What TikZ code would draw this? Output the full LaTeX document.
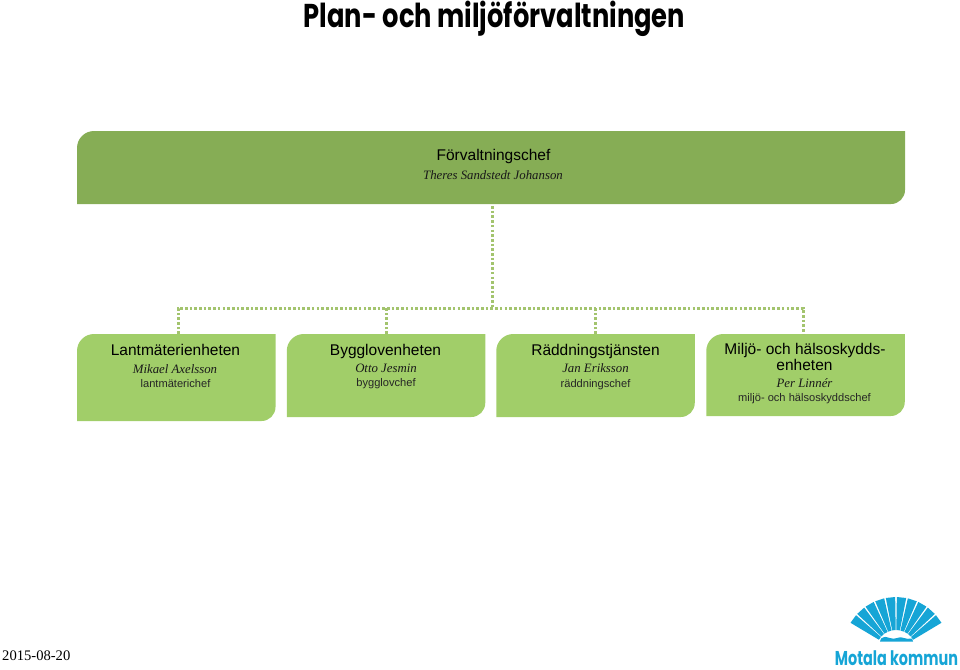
\documentclass[tikz,border=0pt]{standalone}
\usepackage{fontspec}
\setmainfont{Liberation Serif}
\setsansfont{Liberation Sans}
\newfontfamily\titlefont{Poppins}
\definecolor{topgreen}{HTML}{86AD55}
\definecolor{subgreen}{HTML}{A1CE69}
\definecolor{dotgreen}{HTML}{A3C46E}
\definecolor{logoblue}{HTML}{16A5D6}
\tikzset{
 x=1pt,y=-1pt,
 greenbox/.style n args={3}{rectangle,inner sep=0pt,outer sep=0pt,minimum width=#1,minimum height=#2,
   path picture={\fill[#3,rounded corners=0pt]
     (path picture bounding box.south west) --
     (path picture bounding box.west) [rounded corners=17pt] -- (path picture bounding box.north west) [rounded corners=0pt] --
     (path picture bounding box.north east) -- (path picture bounding box.east) [rounded corners=14pt] -- (path picture bounding box.south east) [rounded corners=0pt] -- (path picture bounding box.south) -- cycle;}},
 unitname/.style={font=\sffamily\fontsize{15.5}{15.5}\selectfont,text=black,inner sep=0pt,anchor=base},
 person/.style={font=\rmfamily\itshape\fontsize{12.8}{12.8}\selectfont,text=black!90,inner sep=0pt,anchor=base},
 role/.style={font=\sffamily\fontsize{11.1}{11.1}\selectfont,text=black!85,inner sep=0pt,anchor=base},
 dotline/.style={draw=dotgreen,line width=3pt,dash pattern=on 2.6pt off 2.1pt},
 fanpart/.style={fill=logoblue,draw=none},
}
\newcommand{\fanblade}[2]{%
  \fill[fanpart] (896+20*cos #1,650-20*sin #1) -- (896+53*cos #1,650-53*sin #1)
    -- (896+53*cos #2,650-53*sin #2) -- (896+20*cos #2,650-20*sin #2) -- cycle;}
\begin{document}
\begin{tikzpicture}
\useasboundingbox (0,0) rectangle (960,669);
\node[greenbox={828pt}{73pt}{topgreen}] (chief) at (491,167.5) {};
\node[greenbox={198.5pt}{87pt}{subgreen}] (lant) at (176.25,377.5) {};
\node[greenbox={198.5pt}{83pt}{subgreen}] (bygg) at (386,375.5) {};
\node[greenbox={198.5pt}{83pt}{subgreen}] (radd) at (595.5,375.5) {};
\node[greenbox={198.5pt}{82pt}{subgreen}] (milj) at (805.5,375) {};
\coordinate (bus) at (492.5,308);
\coordinate (chiefdrop) at (492.5,206);
\coordinate (busL) at (178,308);
\coordinate (busB) at (386,308);
\coordinate (busR) at (595,308);
\coordinate (busM) at (803,308);
\draw[dotline] (chiefdrop) -- (bus);
\draw[dotline] (lant.north -| busL) -- (busL) -- (busM) -- (milj.north -| busM);
\draw[dotline] (bygg.north -| busB) -- (busB);
\draw[dotline] (radd.north -| busR) -- (busR);
\node[font=\titlefont\bfseries\fontsize{33}{33}\selectfont,inner sep=0pt,xscale=.78,anchor=base] (title) at (494.5,28) {Plan- och miljöförvaltningen};
\node[unitname] (t0) at (493.5,160) {Förvaltningschef};
\node[person] (p0) at (493,179.5) {Theres Sandstedt Johanson};
\node[unitname] (t1) at (175.5,355.5) {Lantmäterienheten};
\node[person] (p1) at (175,373) {Mikael Axelsson};
\node[role] (r1) at (175.5,387.5) {lantmäterichef};
\node[unitname] (t2) at (385.5,355) {Bygglovenheten};
\node[person] (p2) at (386,372.3) {Otto Jesmin};
\node[role] (r2) at (386,386.3) {bygglovchef};
\node[unitname] (t3) at (595.5,355) {Räddningstjänsten};
\node[person] (p3) at (595.5,372.5) {Jan Eriksson};
\node[role] (r3) at (595.5,387) {räddningschef};
\node[unitname] (t4a) at (805,354.7) {Miljö- och hälsoskydds-};
\node[unitname] (t4b) at (804.5,370) {enheten};
\node[person] (p4) at (804.5,387) {Per Linnér};
\node[role] (r4) at (804.5,401.3) {miljö- och hälsoskyddschef};
\node[font=\rmfamily\fontsize{14.6}{14.6}\selectfont,inner sep=0pt,anchor=base west] (date) at (2,660.5) {2015-08-20};
\foreach \a in {0,...,9}{\pgfmathsetmacro{\s}{30+12*\a+0.9}\pgfmathsetmacro{\e}{30+12*\a+11.1}\fanblade{\s}{\e}}
\fill[fanpart] (880,641.5) -- (881,638.5) .. controls (884,636.5) and (887,636.5) .. (890,638) .. controls (892,639) and (895,639) .. (897,638) .. controls (899,637) and (902,637) .. (904,638) .. controls (906,639) and (909,639) .. (912,638.5) -- (913,641.5) -- cycle;
\node[font=\titlefont\bfseries\fontsize{20}{20}\selectfont,text=logoblue,inner sep=0pt,xscale=.72,anchor=base] (logo) at (896.5,665) {Motala kommun};
\end{tikzpicture}
\end{document}
